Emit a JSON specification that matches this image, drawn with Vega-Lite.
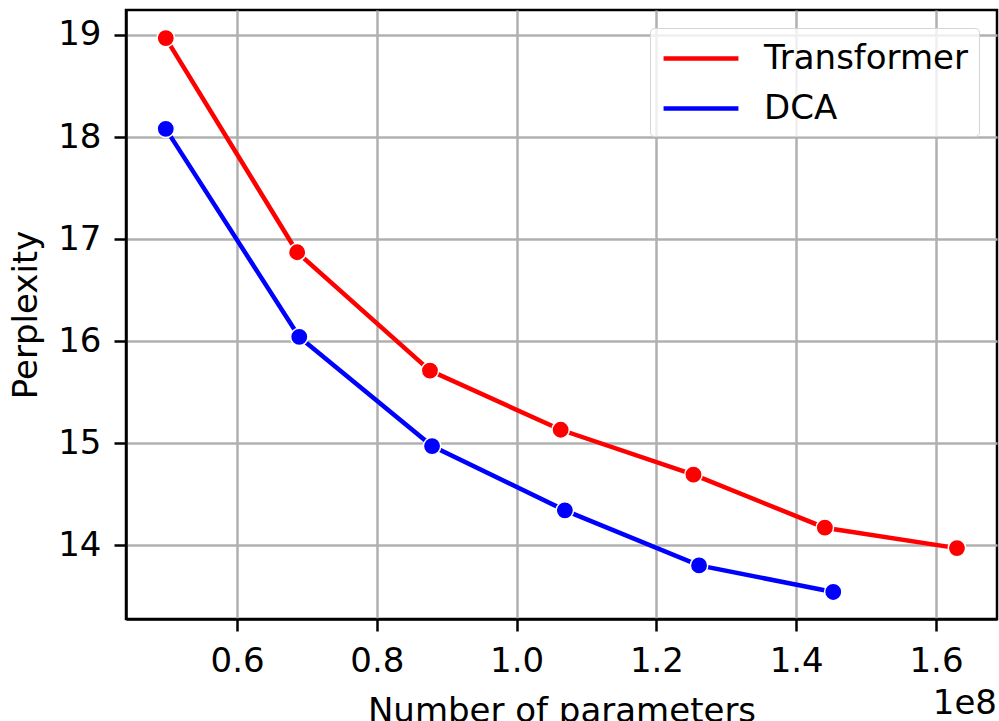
{
  "$schema": "https://vega.github.io/schema/vega-lite/v6.json",
  "width": 871,
  "height": 609,
  "autosize": {"type": "none"},
  "padding": {"left": 126, "top": 10, "right": 2, "bottom": 102},
  "background": "white",
  "title": {"text": "1e8", "orient": "bottom", "anchor": "end", "fontSize": 34, "font": "DejaVu Sans", "fontWeight": "normal", "color": "black", "offset": -41},
  "config": {
    "font": "DejaVu Sans",
    "view": {"stroke": "black", "strokeWidth": 2.5},
    "axis": {
      "labelFont": "DejaVu Sans", "labelFontSize": 34, "labelColor": "black",
      "titleFont": "DejaVu Sans", "titleFontSize": 34, "titleFontWeight": "normal", "titleColor": "black",
      "domainColor": "black", "domainWidth": 2.5,
      "tickColor": "black", "tickWidth": 2.5, "tickSize": 12,
      "gridColor": "#b0b0b0", "gridWidth": 2.5, "gridOpacity": 1,
      "labelPadding": 13
    }
  },
  "data": {"values": [
    {"model": "Transformer", "params": 49800000, "perplexity": 18.97},
    {"model": "Transformer", "params": 68600000, "perplexity": 16.87},
    {"model": "Transformer", "params": 87600000, "perplexity": 15.71},
    {"model": "Transformer", "params": 106300000, "perplexity": 15.13},
    {"model": "Transformer", "params": 125300000, "perplexity": 14.69},
    {"model": "Transformer", "params": 144100000, "perplexity": 14.17},
    {"model": "Transformer", "params": 163000000, "perplexity": 13.97},
    {"model": "DCA", "params": 49800000, "perplexity": 18.08},
    {"model": "DCA", "params": 68900000, "perplexity": 16.04},
    {"model": "DCA", "params": 87900000, "perplexity": 14.97},
    {"model": "DCA", "params": 106900000, "perplexity": 14.34},
    {"model": "DCA", "params": 126100000, "perplexity": 13.80},
    {"model": "DCA", "params": 145300000, "perplexity": 13.54}
  ]},
  "encoding": {
    "x": {
      "field": "params", "type": "quantitative",
      "scale": {"domain": [44110000, 168730000], "nice": false, "zero": false},
      "axis": {"values": [60000000, 80000000, 100000000, 120000000, 140000000, 160000000], "labelExpr": "format(datum.value/1e8, '.1f')", "title": "Number of parameters", "titlePadding": 16}
    },
    "y": {
      "field": "perplexity", "type": "quantitative",
      "scale": {"domain": [13.275, 19.245], "nice": false, "zero": false},
      "axis": {"values": [14, 15, 16, 17, 18, 19], "title": "Perplexity", "titlePadding": 14, "labelPadding": 13}
    },
    "color": {
      "field": "model", "type": "nominal",
      "scale": {"domain": ["Transformer", "DCA"], "range": ["#ff0000", "#0000ff"]},
      "legend": {
        "title": null, "orient": "top-right", "offset": 18,
        "symbolType": "M-2.08,0H2.08", "symbolSize": 1296, "symbolStrokeWidth": 4.5, "symbolOffset": 20.5,
        "labelFont": "DejaVu Sans", "labelFontSize": 34, "labelColor": "black", "labelOffset": 42.5, "labelLimit": 400,
        "padding": 10, "rowPadding": 12,
        "strokeColor": "#d5d5d5", "fillColor": "rgba(255,255,255,0.8)", "cornerRadius": 4
      }
    }
  },
  "layer": [
    {"mark": {"type": "line", "strokeWidth": 4.5}},
    {"mark": {"type": "point", "filled": true, "size": 300, "stroke": "white", "strokeWidth": 1.5, "opacity": 1}}
  ]
}
